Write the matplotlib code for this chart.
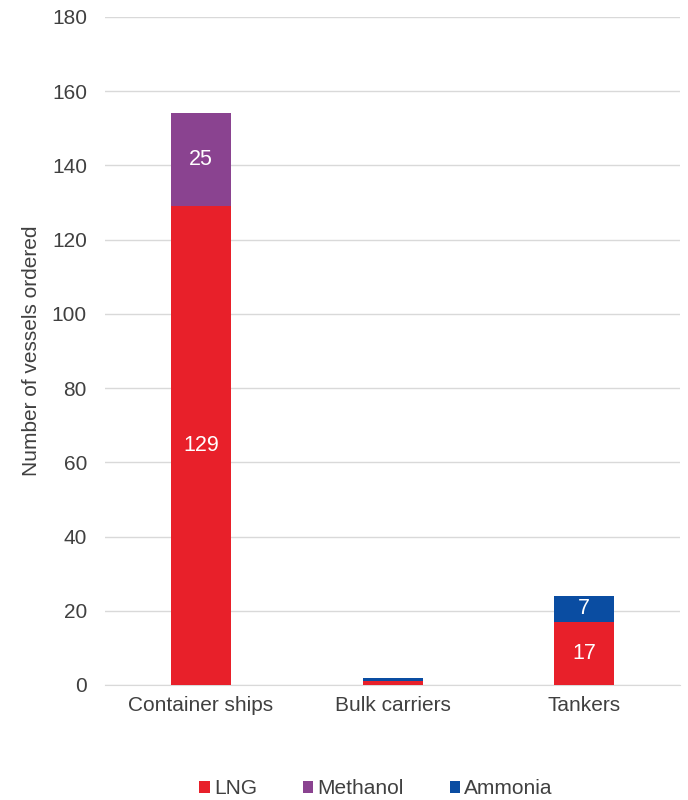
import numpy as np
import matplotlib.pyplot as plt

plt.rcParams['font.family'] = ['Liberation Sans', 'DejaVu Sans']

# vessels ordered by ship type and fuel
categories = ['Container ships', 'Bulk carriers', 'Tankers']
lng = [129, 1, 17]
methanol = [25, 0, 0]
ammonia = [0, 1, 7]

c_lng = '#E8202A'
c_meth = '#8A4390'
c_amm = '#0A4DA2'
txt = '#404040'

fig = plt.figure(figsize=(6.88, 8), dpi=100)
ax = fig.add_axes([0.1526, 0.14375, 0.8358, 0.835])

x = np.arange(len(categories))
w = 0.313
lng = np.array(lng)
methanol = np.array(methanol)
ammonia = np.array(ammonia)

b1 = ax.bar(x, lng, w, color=c_lng, label='LNG', zorder=3)
b2 = ax.bar(x, methanol, w, bottom=lng, color=c_meth, label='Methanol', zorder=3)
b3 = ax.bar(x, ammonia, w, bottom=lng + methanol, color=c_amm, label='Ammonia', zorder=3)

# value labels only on the segments big enough to hold them
for bars, vals, bottoms in [(b1, lng, 0 * lng), (b2, methanol, lng), (b3, ammonia, lng + methanol)]:
    for rect, v, b in zip(bars, vals, bottoms):
        if v >= 5:
            ax.text(rect.get_x() + rect.get_width() / 2, b + v / 2, str(v),
                    ha='center', va='center', color='white', fontsize=15.5, zorder=4)

ax.set_xlim(-0.5, 2.5)
ax.set_ylim(0, 180)
ax.set_yticks(range(0, 181, 20))
ax.set_xticks(x)
ax.set_xticklabels(categories)
ax.yaxis.grid(True, color='#D9D9D9', linewidth=1, zorder=0)
ax.tick_params(length=0, labelsize=15, colors=txt, pad=8)
ax.tick_params(axis='y', pad=13)
for s in ['top', 'right', 'left']:
    ax.spines[s].set_visible(False)
ax.spines['bottom'].set_color('#D9D9D9')
ax.set_ylabel('Number of vessels ordered', fontsize=15, color=txt, labelpad=8)

leg = fig.legend(handles=[b1, b2, b3], loc='center', bbox_to_anchor=(0.5465, 0.014),
                 ncol=3, frameon=False, fontsize=15, handlelength=0.5, handleheight=0.5,
                 handletextpad=0.2, columnspacing=2.2)
for t in leg.get_texts():
    t.set_color(txt)

fig.savefig('out.png', dpi=100)
